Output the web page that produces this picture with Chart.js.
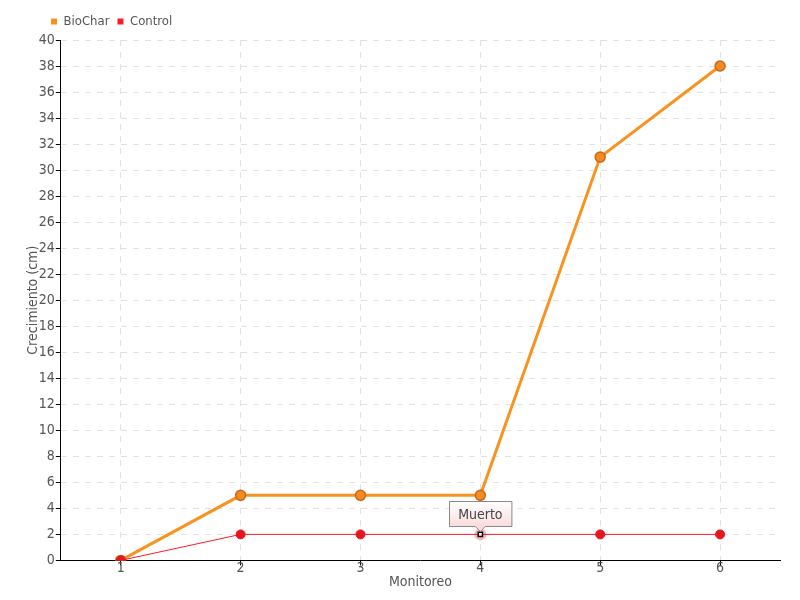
<!DOCTYPE html>
<html>
<head>
<meta charset="utf-8">
<script src="https://cdn.jsdelivr.net/npm/chart.js@4/dist/chart.umd.min.js"></script>
<style>
  html, body { margin: 0; padding: 0; background: #fff; }
  #wrap { width: 800px; height: 600px; }
</style>
</head>
<body>
<div id="wrap"><canvas id="chart"></canvas></div>
<script>
const monitoreo = ["1", "2", "3", "4", "5", "6"];
const biochar = [0, 5, 5, 5, 31, 38];
const control = [0, 2, 2, 2, 2, 2];
const notaIndex = 3;
const notaTexto = "Muerto";

const FONT = "'DejaVu Sans Condensed', 'Liberation Sans Narrow', sans-serif";

// caja tipo tooltip sobre el punto marcado
const notaPlugin = {
  id: "nota",
  afterLayout(chart) {
    // correr la leyenda
    chart.legend.left += 22;
    chart.legend.right += 22;
    chart.legend.top -= 2;
    chart.legend.bottom -= 2;
  },
  beforeDatasetsDraw(chart) {
    const p = chart.getDatasetMeta(1).data[notaIndex];
    if (!p) return;
    const ctx = chart.ctx;
    ctx.save();
    ctx.fillStyle = "rgba(240, 40, 50, 0.35)";
    ctx.beginPath();
    ctx.arc(p.x, p.y, 6, 0, Math.PI * 2);
    ctx.fill();
    ctx.restore();
  },
  afterDatasetsDraw(chart) {
    const p = chart.getDatasetMeta(1).data[notaIndex];
    if (!p) return;
    const ctx = chart.ctx;
    ctx.save();
    ctx.font = "14px " + FONT;
    const w = ctx.measureText(notaTexto).width + 18;
    const h = 25;
    const x0 = Math.round(p.x - w / 2) + 0.5;
    const y1 = Math.round(p.y - 8) + 0.5;
    const y0 = y1 - h;
    const g = ctx.createLinearGradient(0, y0, 0, y1);
    g.addColorStop(0, "#ffffff");
    g.addColorStop(1, "#fbdcdc");
    ctx.beginPath();
    ctx.moveTo(x0, y0);
    ctx.lineTo(x0 + w, y0);
    ctx.lineTo(x0 + w, y1);
    ctx.lineTo(p.x + 5, y1);
    ctx.lineTo(p.x, y1 + 5);
    ctx.lineTo(p.x - 5, y1);
    ctx.lineTo(x0, y1);
    ctx.closePath();
    ctx.fillStyle = g;
    ctx.fill();
    ctx.strokeStyle = "#8a8a8a";
    ctx.lineWidth = 1;
    ctx.stroke();
    ctx.fillStyle = "#444";
    ctx.textAlign = "center";
    ctx.textBaseline = "middle";
    ctx.fillText(notaTexto, p.x, y0 + h / 2 + 1);
    ctx.restore();
  }
};

const ctrlStyle = control.map((_, i) => (i === notaIndex ? "rect" : "circle"));
const ctrlBg = control.map((_, i) => (i === notaIndex ? "#ffffff" : "#e8141e"));
const ctrlBorder = control.map((_, i) => (i === notaIndex ? "#000000" : "#e8141e"));
const ctrlRadius = control.map((_, i) => (i === notaIndex ? 3 : 4.5));
const ctrlBw = control.map((_, i) => (i === notaIndex ? 1.5 : 1));

new Chart(document.getElementById("chart"), {
  type: "line",
  data: {
    labels: monitoreo,
    datasets: [
      {
        label: "BioChar",
        data: biochar,
        borderColor: "#f7931e",
        backgroundColor: "#f7931e",
        borderWidth: 3,
        pointRadius: 5,
        pointBorderWidth: 1.5,
        pointBackgroundColor: "#f28c22",
        pointBorderColor: "#c9681a",
        tension: 0,
        order: 1,
      },
      {
        label: "Control",
        data: control,
        borderColor: "#ff1a2a",
        backgroundColor: "#ff1a2a",
        borderWidth: 1,
        pointStyle: ctrlStyle,
        pointRadius: ctrlRadius,
        pointBorderWidth: ctrlBw,
        pointBackgroundColor: ctrlBg,
        pointBorderColor: ctrlBorder,
        tension: 0,
        order: 0,
      },
    ],
  },
  options: {
    responsive: true,
    maintainAspectRatio: false,
    animation: false,
    layout: { padding: { left: 21, right: 20, top: 9, bottom: 9 } },
    plugins: {
      legend: {
        position: "top",
        align: "start",
        labels: {
          boxWidth: 6,
          boxHeight: 6,
          padding: 8,
          color: "#555",
          font: { family: FONT, size: 13 },
          sort: (a, b) => a.datasetIndex - b.datasetIndex,
          generateLabels(chart) {
            const items = Chart.defaults.plugins.legend.labels.generateLabels(chart);
            items.forEach((it) => { it.lineWidth = 0; it.strokeStyle = it.fillStyle; });
            return items;
          },
        },
      },
      tooltip: { enabled: false },
    },
    scales: {
      x: {
        offset: true,
        title: { display: true, text: "Monitoreo", color: "#555", font: { family: FONT, size: 14 }, padding: { top: 2, bottom: 0 } },
        ticks: { color: "#555", font: { family: FONT, size: 14 }, padding: -5 },
        grid: { color: "#e2e2e2", tickColor: "#000", tickLength: 5, offset: false },
        border: { color: "#000", width: 1, dash: [6, 6] },
      },
      y: {
        min: 0,
        max: 40,
        title: { display: true, text: "Crecimiento (cm)", color: "#555", font: { family: FONT, size: 14 }, padding: { top: 4, bottom: -4 } },
        ticks: { stepSize: 2, color: "#555", font: { family: FONT, size: 14 }, padding: 1 },
        grid: { color: "#e2e2e2", tickColor: "#000", tickLength: 5 },
        border: { color: "#000", width: 1, dash: [6, 6] },
      },
    },
  },
  plugins: [notaPlugin],
});
</script>
</body>
</html>
